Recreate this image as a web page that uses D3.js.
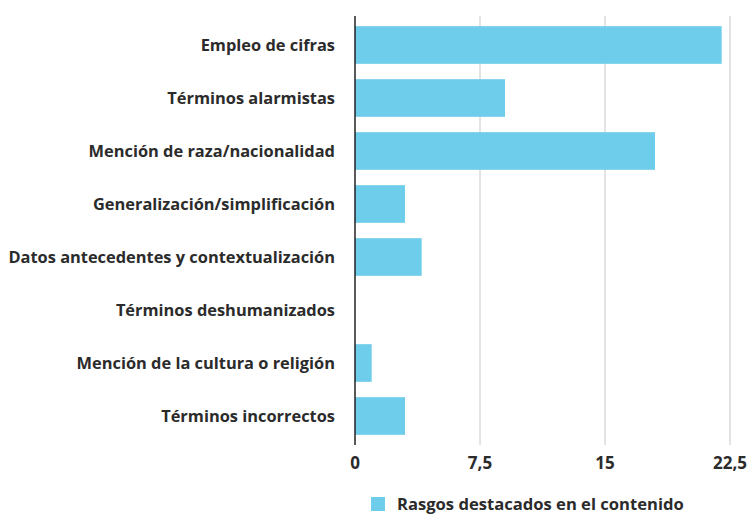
<!DOCTYPE html>
<html>
<head>
<meta charset="utf-8">
<script src="https://cdn.jsdelivr.net/npm/d3@7"></script>
<style>
  body { margin: 0; background: #fff; }
  svg text { font-family: "Open Sans", Lato, sans-serif; font-weight: 700; fill: #2b2b2b; }
</style>
</head>
<body>
<div class="graph"></div>
<script>
var categories = [
  'Empleo de cifras',
  'Términos alarmistas',
  'Mención de raza/nacionalidad',
  'Generalización/simplificación',
  'Datos antecedentes y contextualización',
  'Términos deshumanizados',
  'Mención de la cultura o religión',
  'Términos incorrectos'
];
var values = [22, 9, 18, 3, 4, 0, 1, 3];
var xTicks = [0, 7.5, 15, 22.5];
var seriesName = 'Rasgos destacados en el contenido';

var width = 750,
    height = 514;

var svg = d3.select('.graph')
  .append('svg')
  .attr('width', width)
  .attr('height', height);

var xScale = d3.scaleLinear()
  .domain([0, 22.5])
  .range([355, 730]);

var yScale = d3.scaleBand()
  .domain(categories)
  .range([18.5, 442.5])
  .paddingInner(0.29)
  .paddingOuter(0.145);

// gridlines
svg.append('g')
  .selectAll('line')
  .data(xTicks.slice(1))
  .enter()
  .append('line')
  .attr('x1', d => xScale(d))
  .attr('x2', d => xScale(d))
  .attr('y1', 16)
  .attr('y2', 445)
  .style('stroke', '#c8c8c8')
  .style('stroke-width', 1);

// bars
svg.append('g')
  .selectAll('rect')
  .data(values)
  .enter()
  .append('rect')
  .attr('x', xScale(0))
  .attr('y', (d, i) => yScale(categories[i]))
  .attr('width', d => xScale(d) - xScale(0))
  .attr('height', yScale.bandwidth())
  .style('fill', '#6ecdeb');

// y axis line + labels
svg.append('line')
  .attr('x1', xScale(0))
  .attr('x2', xScale(0))
  .attr('y1', 16)
  .attr('y2', 445)
  .style('stroke', '#222')
  .style('stroke-width', 1.5);

svg.append('g')
  .selectAll('text')
  .data(categories)
  .enter()
  .append('text')
  .attr('x', 335)
  .attr('y', d => yScale(d) + yScale.bandwidth() / 2)
  .attr('dy', '0.35em')
  .attr('text-anchor', 'end')
  .style('font-size', '16.4px')
  .text(d => d);

// x tick labels
svg.append('g')
  .selectAll('text')
  .data(xTicks)
  .enter()
  .append('text')
  .attr('x', d => xScale(d))
  .attr('y', 469)
  .attr('text-anchor', 'middle')
  .style('font-size', '17px')
  .text(d => String(d).replace('.', ','));

// legend
svg.append('rect')
  .attr('x', 371)
  .attr('y', 497)
  .attr('width', 14)
  .attr('height', 14)
  .style('fill', '#6ecdeb');

svg.append('text')
  .attr('x', 397)
  .attr('y', 510)
  .style('font-size', '16.6px')
  .text(seriesName);
</script>
</body>
</html>
